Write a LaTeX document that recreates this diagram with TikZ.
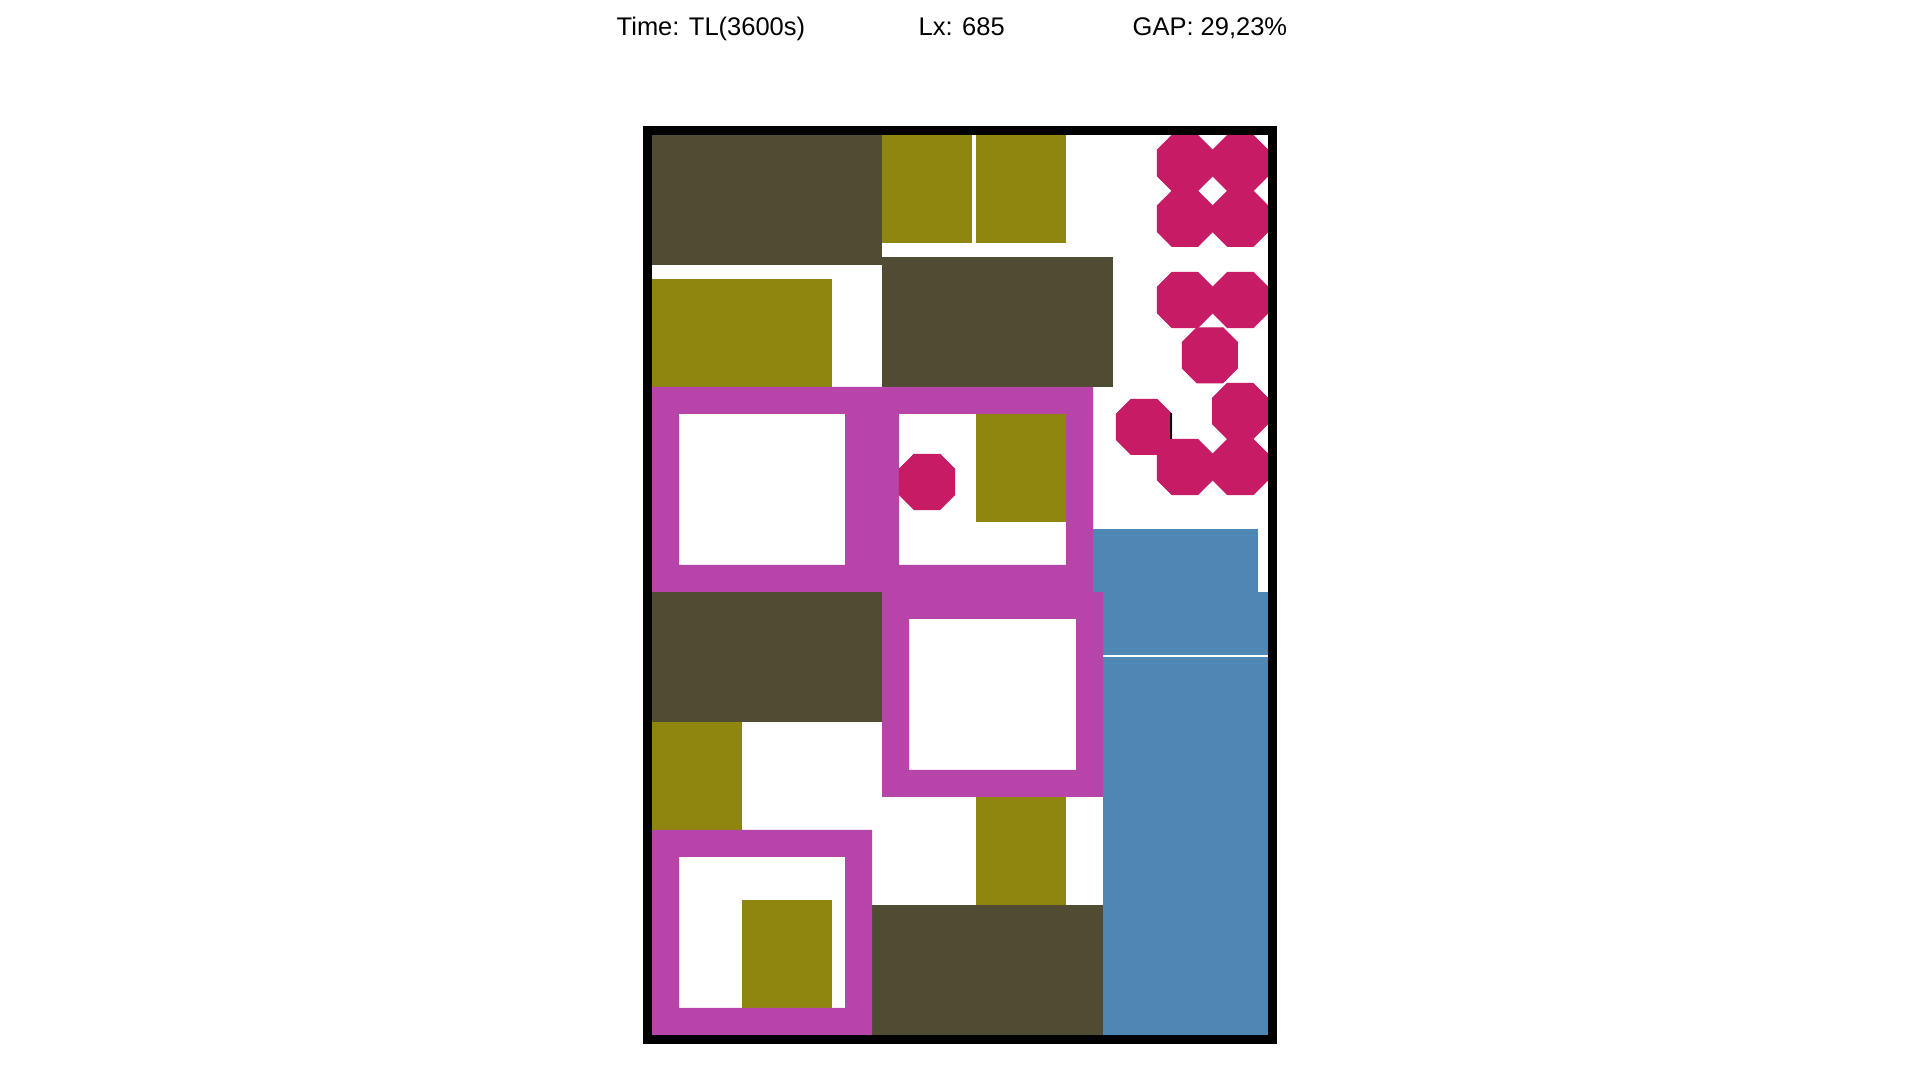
\documentclass[tikz,border=0pt]{standalone}
\usepackage{fontspec}
\setmainfont{Liberation Sans}
\definecolor{darkbox}{RGB}{80,75,51}
\definecolor{olivebox}{RGB}{142,134,15}
\definecolor{ringbox}{RGB}{183,68,168}
\definecolor{octbox}{RGB}{199,27,102}
\definecolor{bluebox}{RGB}{79,135,180}
\newcommand{\headfont}{\fontsize{7.25}{9}\selectfont}

\begin{document}
\begin{tikzpicture}[x=0.01cm, y=-0.01cm,
    darkpiece/.style={fill=darkbox},
    olivepiece/.style={fill=olivebox},
    ringpiece/.style={fill=ringbox, even odd rule},
    octpiece/.style={fill=octbox, draw=octbox, line width=0.3pt},
    bluepiece/.style={fill=bluebox}]
  \useasboundingbox[fill=white] (0,0) rectangle (1920,1080);

  % Header
  \node[anchor=base west, font=\headfont, inner sep=0pt] (time) at (616,36) {Time: TL(3600s)};
  \node[anchor=base west, font=\headfont, inner sep=0pt] (lx) at (918,36) {Lx: 685};
  \node[anchor=base west, font=\headfont, inner sep=0pt] (gap) at (1132,36) {GAP: 29,23\%};

  % Dark pieces
  \fill[darkpiece] (652,135) rectangle (882,265);
  \fill[darkpiece] (882,257) rectangle (1113,387);
  \fill[darkpiece] (652,592) rectangle (882,722);
  \fill[darkpiece] (872,905) rectangle (1103,1035);

  % Olive pieces
  \fill[olivepiece] (882,135) rectangle (972,243);
  \fill[olivepiece] (976,135) rectangle (1066,243);
  \fill[olivepiece] (652,279) rectangle (832,387);
  \fill[olivepiece] (976,414) rectangle (1066,522);
  \fill[olivepiece] (652,722) rectangle (742,830);
  \fill[olivepiece] (742,900) rectangle (832,1008);
  \fill[olivepiece] (976,797) rectangle (1066,905);

  % Rings
  \fill[ringpiece] (652,387) rectangle (872,592) (679,414) rectangle (845,565);
  \fill[ringpiece] (872,387) rectangle (1093,592) (899,414) rectangle (1066,565);
  \fill[ringpiece] (882,592) rectangle (1103,797) (909,619) rectangle (1076,770);
  \fill[ringpiece] (652,830) rectangle (872,1035) (679,857) rectangle (845,1008);

  % Blue pieces
  \fill[bluepiece] (1093,529) rectangle (1258,592);
  \fill[bluepiece] (1103,592) rectangle (1268,655);
  \fill[bluepiece] (1103,657) rectangle (1268,1035);

  % Octagons
  \foreach \cx/\cy in {1184.8/163, 1240.3/163, 1184.8/218.8, 1240.3/218.8,
                       1184.8/300, 1240.3/300, 1209.8/355.3,
                       1144/426.8, 1240.1/411, 1184.8/467, 1240.3/467, 927/482}
    \filldraw[octpiece, shift={(\cx,\cy)}] (13,27.5) -- (27.5,13) -- (27.5,-13) -- (13,-27.5)
      -- (-13,-27.5) -- (-27.5,-13) -- (-27.5,13) -- (-13,27.5) -- cycle;
  \draw[line width=0.3pt] (1171,413) -- (1171,439);

  % Strip
  \draw[line width=2.56pt] (647.5,130.3) rectangle (1272.5,1039.5);
\end{tikzpicture}
\end{document}
